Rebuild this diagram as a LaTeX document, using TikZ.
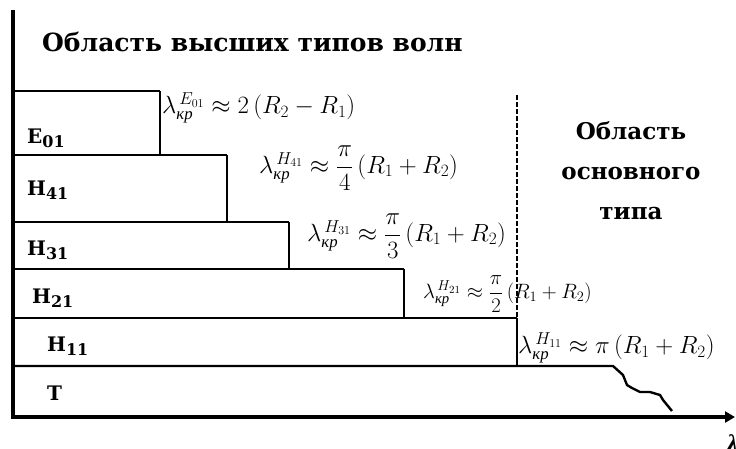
\documentclass[tikz,border=0pt]{standalone}
\usepackage{amsmath}
\usepackage[no-math]{fontspec}
\setmainfont{Liberation Serif}
\newfontfamily\lblfont{DejaVu Serif}
\usetikzlibrary{arrows.meta}
\newcommand{\kr}{\text{\itshape кр}}
\begin{document}
\begin{tikzpicture}[x=1pt,y=-1pt,
  axis/.style={line width=3.5pt},
  edge/.style={line width=2.4pt},
  side/.style={line width=1.4pt},
  formula/.style={anchor=west,inner sep=0pt,font=\fontsize{24}{28}\selectfont},
  modelabel/.style={anchor=west,inner sep=0pt,font=\lblfont\bfseries\fontsize{20}{24}\selectfont},
  region/.style={inner sep=0pt,align=center,font=\lblfont\bfseries\fontsize{23}{40}\selectfont}]
\useasboundingbox (0,0) rectangle (736,448);
\fill[white] (0,0) rectangle (736,448);

% boxes
\draw[edge] (13,91) -- (160,91);  \draw[side] (160,91) -- (160,155);
\draw[edge] (13,155) -- (227,155); \draw[side] (227,155) -- (227,222);
\draw[edge] (13,222) -- (289,222); \draw[side] (289,222) -- (289,269);
\draw[edge] (13,269) -- (404,269); \draw[side] (404,269) -- (404,318);
\draw[edge] (13,318) -- (517,318); \draw[side] (517,318) -- (517,366);
\draw[edge,line join=round] (13,366) -- (613,366) -- (623,375) -- (627,385) -- (632,388)
  -- (640,392) -- (650,392) -- (660,395) -- (663,400) -- (672,411);

% dashed boundary
\draw[line width=2.2pt,dash pattern=on 4.5pt off 2.5pt] (517,95) -- (517,318);

% axes
\draw[axis,line join=miter,-{Triangle[length=10pt,width=11pt]}] (13,10) -- (13,417) -- (735,417);

% mode labels
\node[modelabel] (e01) at (27,138) {E\raisebox{-4pt}{\fontsize{16}{18}\selectfont 01}};
\node[modelabel] (h41) at (27,190) {H\raisebox{-4pt}{\fontsize{16}{18}\selectfont 41}};
\node[modelabel] (h31) at (27,250) {H\raisebox{-4pt}{\fontsize{16}{18}\selectfont 31}};
\node[modelabel] (h21) at (32,298) {H\raisebox{-4pt}{\fontsize{16}{18}\selectfont 21}};
\node[modelabel] (h11) at (47,346) {H\raisebox{-4pt}{\fontsize{16}{18}\selectfont 11}};
\node[modelabel] (t) at (47,393) {T};

% formulas
\node[formula] (fe01) at (162,108) {$\lambda_{\kr}^{\,E_{01}}\approx 2\left(R_2-R_1\right)$};
\node[formula] (fh41) at (259,168) {$\lambda_{\kr}^{\,H_{41}}\approx \dfrac{\pi}{4}\left(R_1+R_2\right)$};
\node[formula] (fh31) at (307,236) {$\lambda_{\kr}^{\,H_{31}}\approx \dfrac{\pi}{3}\left(R_1+R_2\right)$};
\node[formula,font=\fontsize{21}{26}\selectfont] (fh21) at (423,294) {$\lambda_{\kr}^{\,H_{21}}\approx \dfrac{\pi}{2}\left(R_1+R_2\right)$};
\node[formula] (fh11) at (518,348) {$\lambda_{\kr}^{\,H_{11}}\approx \pi\left(R_1+R_2\right)$};

% region titles
\node[inner sep=0pt,anchor=west,font=\lblfont\bfseries\fontsize{25}{28}\selectfont] (higher) at (42,42) {Область высших типов волн};
\node[region] (basic) at (631,171) {Область\\основного\\типа};

% axis label (cut by the edge)
\node[inner sep=0pt,anchor=north west,font=\bfseries\itshape\fontsize{24}{26}\selectfont] (lam) at (727,434) {λ};
\end{tikzpicture}
\end{document}
